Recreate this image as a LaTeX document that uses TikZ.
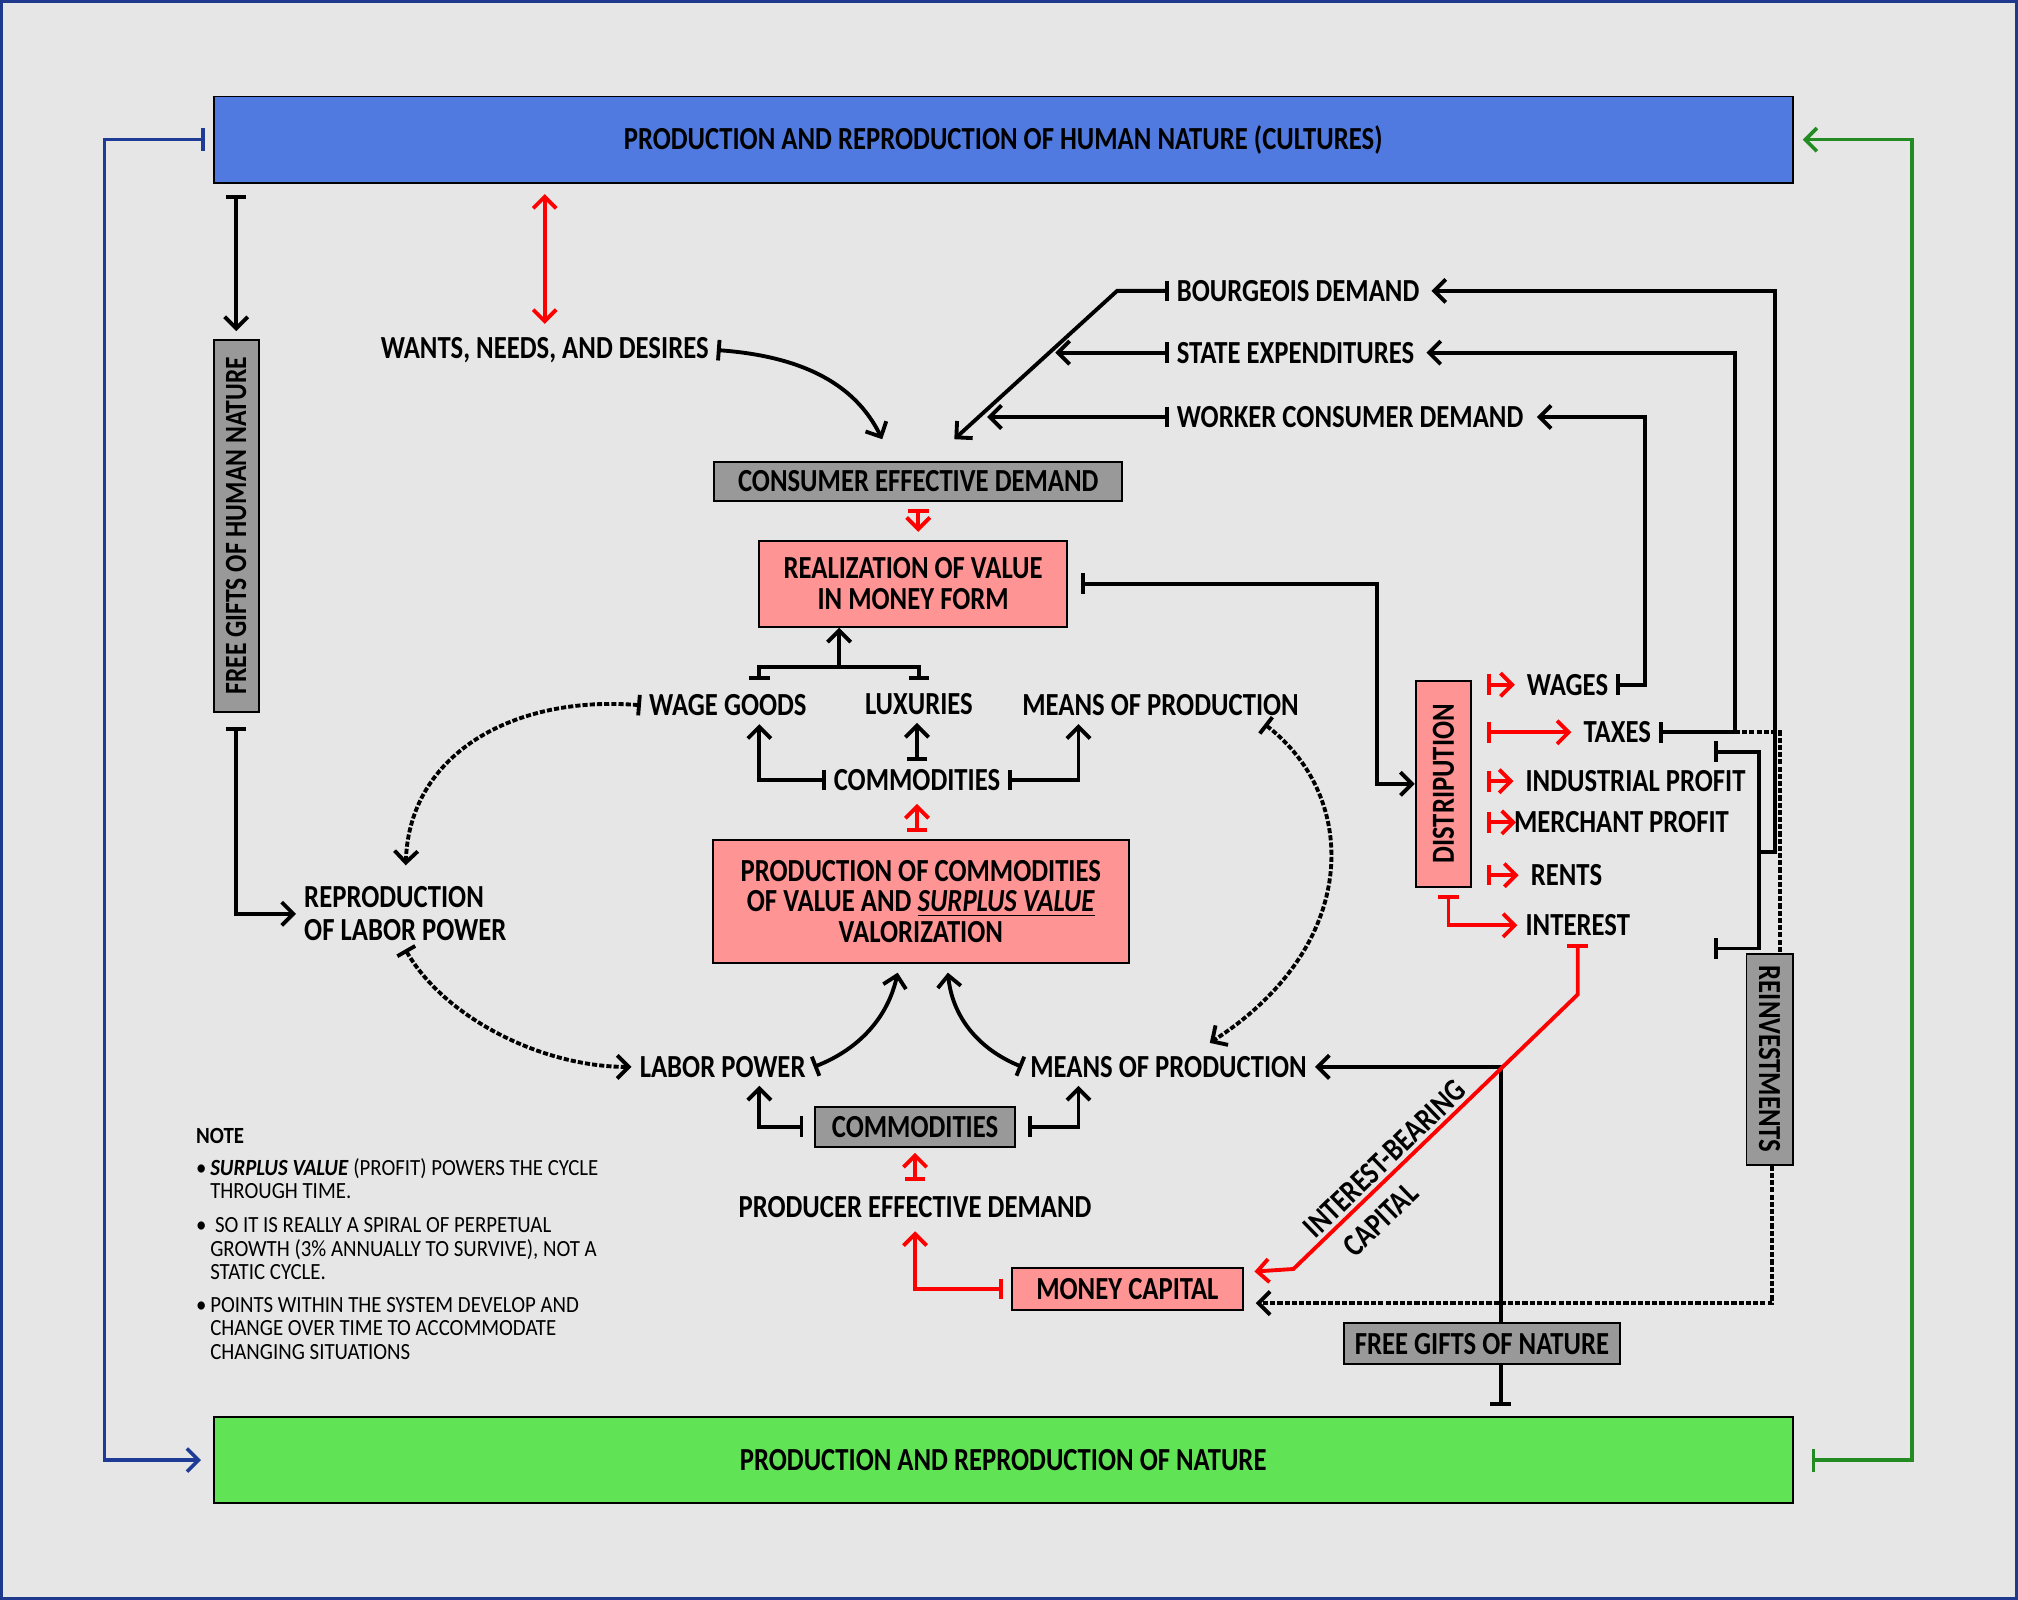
\documentclass[tikz,border=0pt]{standalone}
\usepackage{fontspec}
\setmainfont{Carlito}
\newfontfamily\lblfont{Carlito}[FakeStretch=0.83]
\newfontfamily\notefont{Carlito}[FakeStretch=0.9]
\usepackage{tikz}
\usetikzlibrary{arrows.meta,positioning}
\definecolor{bgGray}{HTML}{E6E6E6}
\definecolor{frameBlue}{HTML}{1F3A8C}
\definecolor{cultFill}{HTML}{507AE0}
\definecolor{natFill}{HTML}{61E356}
\definecolor{pinkFill}{HTML}{FF9494}
\definecolor{grayFill}{HTML}{999999}
\definecolor{loopBlue}{HTML}{1E3C96}
\definecolor{loopGreen}{HTML}{228B22}

\begin{document}
\begin{tikzpicture}[x=0.5pt, y=-0.5pt,
  lbl/.style={font=\lblfont\bfseries\fontsize{12.5}{13}\selectfont, inner sep=3pt, align=left},
  box/.style={draw, line width=0.75pt, font=\lblfont\bfseries\fontsize{12.5}{12}\selectfont,
              inner sep=1pt, align=center},
  pinkbox/.style={box, fill=pinkFill},
  graybox/.style={box, fill=grayFill},
  bigbox/.style={box, minimum width=613.5pt, minimum height=33.5pt},
  note/.style={font=\notefont\fontsize{9}{9}\selectfont, inner sep=2pt, align=left},
  line/.style={line width=1.5pt},
  arrow/.style={line, -{Straight Barb[length=4.5pt,width=9pt]}},
  bararrow/.style={line, {Bar[width=8pt]}-{Straight Barb[length=4.5pt,width=9pt]}},
  redbar/.style={bararrow, red},
  dashbar/.style={bararrow, dash pattern=on 2pt off 0.8pt},
  loop/.style={line width=1.4pt, {Bar[width=9pt]}-{Straight Barb[length=4.5pt,width=9pt]}}
]
\useasboundingbox (0,0) rectangle (1568,1243);
\fill[bgGray] (0,0) rectangle (1568,1243);
\draw[frameBlue, line width=1.25pt] (1.25,1.25) rectangle (1566.75,1241.75);

% big boxes
\node[bigbox, fill=cultFill] (HN) at (779.5,108.5) {PRODUCTION AND REPRODUCTION OF HUMAN NATURE (CULTURES)};
\node[bigbox, fill=natFill] (NAT) at (779.5,1134.5) {PRODUCTION AND REPRODUCTION OF NATURE};
\node[graybox, rotate=90, minimum width=144.5pt, minimum height=17.5pt,
      font=\lblfont\bfseries\fontsize{12}{12}\selectfont] (FGH) at (183.5,408.5) {FREE GIFTS OF HUMAN NATURE};
\node[graybox, rotate=-90, minimum width=82pt, minimum height=18pt] (REI) at (1375,823) {REINVESTMENTS};
\node[pinkbox, rotate=90, minimum width=80pt, minimum height=21.5pt] (DIS) at (1121.5,609) {DISTRIPUTION};

% circuit boxes
\node[graybox, minimum width=158.5pt, minimum height=15pt] (CED) at (713.5,374) {CONSUMER EFFECTIVE DEMAND};
\node[pinkbox, minimum width=119.5pt, minimum height=33.5pt] (RV) at (709.5,453.5) {REALIZATION OF VALUE\\IN MONEY FORM};
\node[pinkbox, minimum width=161.5pt, minimum height=47.5pt] (PC) at (715.5,700.5)
  {PRODUCTION OF COMMODITIES\\OF VALUE AND \underline{\textit{SURPLUS VALUE}}\\VALORIZATION};
\node[graybox, minimum width=78pt, minimum height=15.5pt] (COM2) at (711,875.5) {COMMODITIES};
\node[pinkbox, minimum width=90pt, minimum height=16.5pt] (MC) at (876,1001.5) {MONEY CAPITAL};
\node[graybox, minimum width=107.5pt, minimum height=16pt] (FGN) at (1151.5,1044) {FREE GIFTS OF NATURE};

% labels
\node[lbl, anchor=east] (WND) at (557,272) {WANTS, NEEDS, AND DESIRES};
\node[lbl, anchor=west] (BD) at (908,226) {BOURGEOIS DEMAND};
\node[lbl, anchor=west] (SE) at (908,274) {STATE EXPENDITURES};
\node[lbl, anchor=west] (WCD) at (908,324) {WORKER CONSUMER DEMAND};
\node[lbl, anchor=west] (RLP) at (230,710) {REPRODUCTION\\OF LABOR POWER};
\node[lbl, anchor=west] (WG) at (498,548) {WAGE GOODS};
\node[lbl] (LUX) at (714,547) {LUXURIES};
\node[lbl, anchor=west] (MP1) at (788,548) {MEANS OF PRODUCTION};
\node[lbl] (COM1) at (712.5,606) {COMMODITIES};
\node[lbl] (LP) at (561.5,829) {LABOR POWER};
\node[lbl] (MP2) at (908,829) {MEANS OF PRODUCTION};
\node[lbl] (PED) at (711,938) {PRODUCER EFFECTIVE DEMAND};
\node[lbl, anchor=west] (WAG) at (1180,532) {WAGES};
\node[lbl, anchor=west] (TAX) at (1224,569) {TAXES};
\node[lbl, anchor=west] (IP) at (1179,607) {INDUSTRIAL PROFIT};
\node[lbl, anchor=west] (MER) at (1170,639) {MERCHANT PROFIT};
\node[lbl, anchor=west] (REN) at (1183,680) {RENTS};
\node[lbl, anchor=west] (INT) at (1179,719) {INTEREST};
\node[lbl, rotate=44, align=left] (IBC) at (1087,912) {INTEREST-BEARING\\[3pt]\hspace{6pt}CAPITAL};

\node[note, anchor=north west] (NOTE) at (148,872) {\textbf{NOTE}\\[5pt]
  \begin{tabular}{@{}l@{}l@{}}
  \makebox[5.5pt][l]{\textbullet} & \textbf{\textit{SURPLUS VALUE}} (PROFIT) POWERS THE CYCLE\\
   & THROUGH TIME.\\[4pt]
  \makebox[5.5pt][l]{\textbullet} & \ SO IT IS REALLY A SPIRAL OF PERPETUAL\\
   & GROWTH (3\% ANNUALLY TO SURVIVE), NOT A\\
   & STATIC CYCLE.\\[4pt]
  \makebox[5.5pt][l]{\textbullet} & POINTS WITHIN THE SYSTEM DEVELOP AND\\
   & CHANGE OVER TIME TO ACCOMMODATE\\
   & CHANGING SITUATIONS
  \end{tabular}};

% free ends
\coordinate (CEDl) at ([xshift=-14pt,yshift=8.5pt]CED.north);
\coordinate (CEDr) at ([xshift=14pt,yshift=8.5pt]CED.north);
\coordinate (SEin) at (820,274);
\coordinate (WCDin) at (767,324);
\coordinate (WGt) at (590,528);
\coordinate (LXt) at (714,528);
\coordinate (WLm) at (652,518);
\coordinate (PCl) at ([xshift=-9pt,yshift=-3.5pt]PC.south);
\coordinate (PCr) at ([xshift=10.5pt,yshift=-3.5pt]PC.south);
\coordinate (MP1b) at ([xshift=-16.5pt]MP1.south east);
\coordinate (MP2t) at ([xshift=16pt,yshift=2pt]MP2.north);
\coordinate (BRt) at (1332,584);
\coordinate (BRb) at (1332,737);
\coordinate (BRm) at (1367,662);

% outer loops
\draw[loop, loopBlue, shorten <=3pt, shorten >=4.5pt] (HN.west) -- ++(-84,0) |- (NAT.west);
\draw[loop, loopGreen, shorten <=7pt, shorten >=3.5pt] (NAT.east) -- ++(92,0) |- (HN.east);

% human nature side
\draw[bararrow, shorten <=4.5pt, shorten >=3pt] (HN.south -| FGH) -- (FGH.east);
\draw[bararrow, shorten <=5.5pt] (FGH.west) |- (RLP.west);
\draw[line, red, {Straight Barb[length=4.5pt,width=9pt]}-{Straight Barb[length=4.5pt,width=9pt]},
      shorten <=4pt, shorten >=2pt] (HN.south -| WND.north) -- (WND.north);
\draw[bararrow] (WND.east) .. controls (640,278) and (670,310) .. (CEDl);

% consumer demand
\draw[bararrow] (BD.west) -- ++(-40,0) -- (CEDr);
\draw[bararrow] (SE.west) -- (SEin);
\draw[bararrow] (WCD.west) -- (WCDin);
\draw[redbar, shorten <=3pt, shorten >=3pt] (CED.south) -- (CED.south |- RV.north);

% upper commodities
\draw[line, {Bar[width=8pt]}-{Bar[width=8pt]}] (WGt) |- (WLm) -| (LXt);
\draw[arrow] (WLm) -- (WLm |- RV.south);
\draw[bararrow] (COM1.west) -| (WGt |- WG.south);
\draw[bararrow] (COM1.east) -| (838,0 |- MP1.south);
\draw[bararrow] (COM1.north) -- (COM1.north |- LUX.south);
\draw[redbar, shorten <=3pt, shorten >=2pt] (COM1.south |- PC.north) -- (COM1.south);

% distribution
\draw[bararrow, shorten <=5pt] (RV.east) -| (1070,530) |- (DIS.north);
\foreach \t in {WAG,TAX,IP,REN}
  \draw[redbar, shorten <=6pt, shorten >=1.5pt] (DIS.south |- \t.west) -- (\t.west);
\draw[redbar, shorten <=6pt] (DIS.south |- MER.west) -- ([xshift=4pt]MER.west);
\draw[redbar, shorten <=3pt] ([xshift=2pt]DIS.west) |- (INT.west);
\draw[bararrow, shorten >=2pt] (WAG.east) -| (1278,0 |- WCD.east) -- (WCD.east);
\draw[bararrow, shorten >=1.5pt] (TAX.east) -| (1348,0 |- SE.east) -- (SE.east);
\draw[arrow, shorten >=1.5pt] (BRm) -| (1379,0 |- BD.east) -- (BD.east);
\draw[line, {Bar[width=8pt]}-{Bar[width=8pt]}] (BRt) -| (BRm) |- (BRb);
\draw[line, dash pattern=on 2pt off 0.8pt] (1348,0 |- TAX.east) -| ([xshift=4pt]REI.west);
\draw[arrow, dash pattern=on 2pt off 0.8pt, shorten >=4.5pt] ([xshift=1pt]REI.east) |- ([yshift=-5.5pt]MC.east);

% lower circuit
\draw[line, {Bar[width=8pt]}-, shorten <=4pt] (1166,0 |- NAT.north) -- (1166,0 |- FGN.south);
\draw[arrow] (1166,0 |- FGN.north) |- (MP2.east);
\draw[redbar, shorten >=4pt] (INT.south) -- ++(0,39) -- (1005,986) -- ([yshift=6.5pt]MC.east);
\draw[redbar, shorten <=3pt, shorten >=2pt] (MC.west) -| (PED.south);
\draw[redbar, shorten <=3pt, shorten >=2pt] (PED.north) -- (COM2.south);
\draw[bararrow, shorten <=4pt] (COM2.west) -| (590,0 |- LP.south);
\draw[bararrow, shorten <=4.5pt] (COM2.east) -| (838,0 |- MP2.south);
\draw[bararrow] (LP.east) .. controls (668,815) and (690,790) .. (PCl);
\draw[bararrow] (MP2.west) .. controls (760,815) and (740,790) .. (PCr);

% dashed flows
\draw[dashbar, shorten >=5pt] (WG.west) .. controls (400,540) and (318,585) .. (RLP.north);
\draw[dashbar] (RLP.south) .. controls (345,790) and (420,829) .. (LP.west);
\draw[dashbar] (MP1b) .. controls (1057,620) and (1057,735) .. (MP2t);
\end{tikzpicture}
\end{document}
